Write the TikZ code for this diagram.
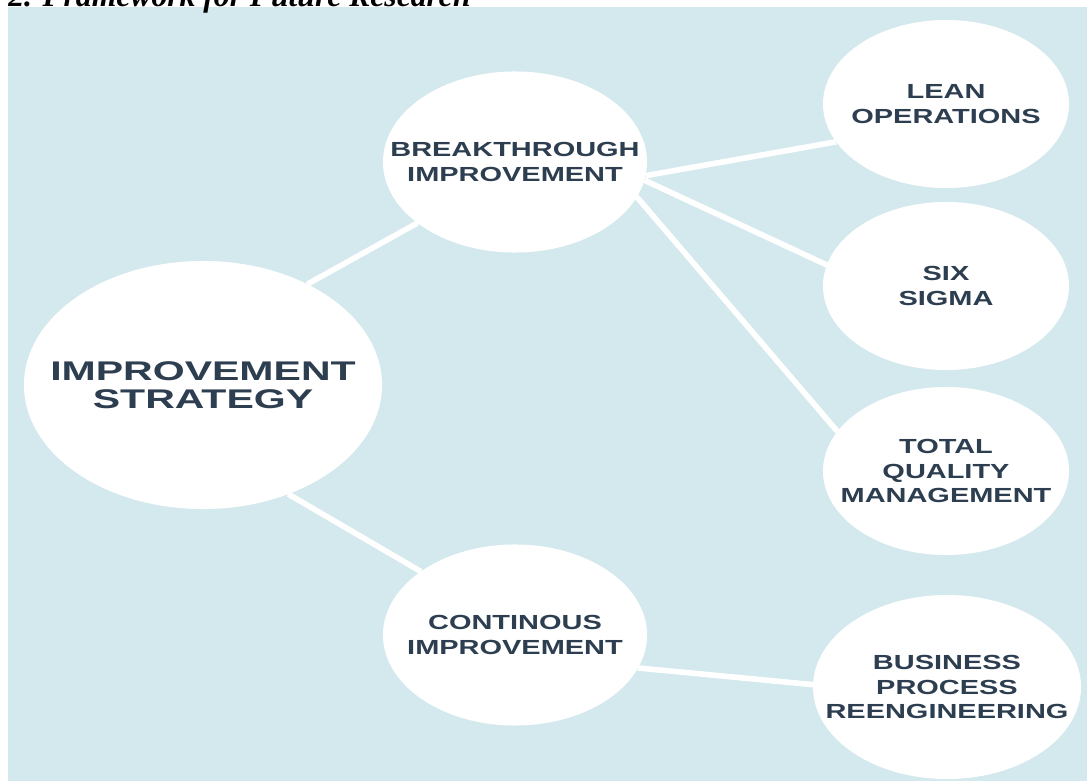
\documentclass[tikz,border=0pt]{standalone}
\usepackage{fontspec}
\setmainfont{Liberation Sans}
\newfontfamily\headfont{Liberation Serif}
\usetikzlibrary{shapes.geometric}

\definecolor{bgblue}{RGB}{211,233,237}
\definecolor{inkslate}{RGB}{45,62,80}

\tikzset{
	strategypicture/.style = {
		x = 0.025cm,
		y = -0.025cm,
		link/.style = {
			draw = white,
			line width = 4pt,
		}
	},
	bubble/.style = {
		ellipse,
		fill = white,
		inner sep = 0pt,
		outer sep = 0pt,
		minimum width = 6.15cm,
		minimum height = 4.2cm
	},
	bubble-big/.style = {
		minimum width = 8.95cm,
		minimum height = 6.2cm
	},
	bubble-mid/.style = {
		minimum width = 6.6cm,
		minimum height = 4.525cm
	},
	bubbletext/.style = {
		text = inkslate,
		font = \bfseries\fontsize{14.5}{17.4}\selectfont,
		align = center,
		inner sep = 0pt,
		xscale = 1.42
	},
	% xscale adds to the one of bubbletext
	bubbletext-big/.style = {
		font = \bfseries\fontsize{19.2}{20.1}\selectfont,
		xscale = 1.07
	}
}

\begin{document}
\begin{tikzpicture}[strategypicture]
	\useasboundingbox (0, 0) rectangle (1087, 782);
	\clip (0, 0) rectangle (1087, 782);
	\fill[bgblue] (8, 7.5) rectangle (1087, 781);

	% heading, cut off by the page edge
	\node[anchor = base west, inner sep = 0pt, font = \headfont\bfseries\itshape\fontsize{22.5}{26}\selectfont] (title) at (8, 6.5) {2. Framework for Future Research};

	\node[bubble, bubble-big] (IS) at (203, 385) {};
	\node[bubble, bubble-mid] (BI) at (515, 162) {};
	\node[bubble, bubble-mid] (CI) at (515, 635) {};
	\node[bubble] (LO) at (946, 104) {};
	\node[bubble] (SS) at (946, 286) {};
	\node[bubble] (TQM) at (946, 471) {};
	\node[bubble, minimum width = 6.7cm, minimum height = 4.6cm] (BPR) at (947, 687) {};

	\node[bubbletext, bubbletext-big] (IS-text) at (IS) {IMPROVEMENT\\STRATEGY};
	\node[bubbletext] (BI-text) at (BI) {BREAKTHROUGH\\IMPROVEMENT};
	\node[bubbletext] (CI-text) at (CI) {CONTINOUS\\IMPROVEMENT};
	\node[bubbletext] (LO-text) at (LO) {LEAN\\OPERATIONS};
	\node[bubbletext] (SS-text) at (SS) {SIX\\SIGMA};
	\node[bubbletext] (TQM-text) at (TQM) {TOTAL\\QUALITY\\MANAGEMENT};
	\node[bubbletext] (BPR-text) at (BPR) {BUSINESS\\PROCESS\\REENGINEERING};

	\begin{scope}[every path/.style = link]
		\path (IS.44) to (BI.212);
		\path (IS.308) to (CI.146);

		\path (BI.-6) to (LO.199);
		\path (BI.-8) to (SS.170);
		\path (BI.-16) to (TQM.160);

		\path (CI.-15) to (BPR.179);
	\end{scope}
\end{tikzpicture}
\end{document}
